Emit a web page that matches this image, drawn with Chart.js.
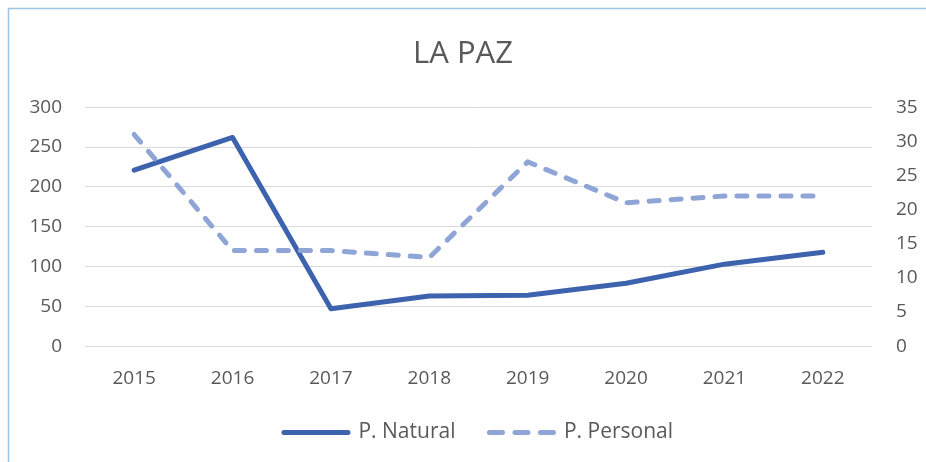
<!DOCTYPE html>
<html>
<head>
<meta charset="utf-8">
<script src="https://cdn.jsdelivr.net/npm/chart.js@4/dist/chart.umd.min.js"></script>
<style>
html,body{margin:0;padding:0;background:#fff;}
#wrap{width:926px;height:462px;position:relative;}
</style>
</head>
<body>
<div id="wrap"><canvas id="c" width="926" height="462"></canvas></div>
<script>
const titleText = "LA PAZ";
const years = ["2015","2016","2017","2018","2019","2020","2021","2022"];
const naturalValues = [221, 262, 47, 63, 64, 79, 103, 118];
const personalValues = [31, 14, 14, 13, 27, 21, 22, 22];
const leftTicks = [0, 50, 100, 150, 200, 250, 300];
const rightTicks = [0, 5, 10, 15, 20, 25, 30, 35];

const textColor = "#595959";
const fontFamily = "'Open Sans', 'Noto Sans', sans-serif";

const framePlugin = {
  id: "frame",
  beforeDraw(chart) {
    const ctx = chart.ctx;
    ctx.save();
    ctx.fillStyle = "#ffffff";
    ctx.fillRect(0, 0, chart.width, chart.height);
    ctx.strokeStyle = "#9dc3e6";
    ctx.lineWidth = 1.5;
    ctx.beginPath();
    ctx.moveTo(8.5, chart.height + 2);
    ctx.lineTo(8.5, 8.5);
    ctx.lineTo(chart.width + 2, 8.5);
    ctx.stroke();
    ctx.restore();
  }
};

// Tighten the space the legend reserves above its row and nudge it right
const LEGEND_SHRINK = 26;
const LEGEND_DRAW_UP = 23;
const LEGEND_SHIFT_X = 31;
const legendTweak = {
  id: "legendTweak",
  beforeLayout(chart) {
    const lg = chart.legend;
    if (lg && !lg._tweaked) {
      const origFit = lg.fit.bind(lg);
      lg.fit = function () { origFit(); this.height -= LEGEND_SHRINK; };
      const origDraw = lg.draw.bind(lg);
      lg.draw = function () {
        const top = this.top, left = this.left;
        this.top = top - LEGEND_DRAW_UP;
        this.left = left + LEGEND_SHIFT_X;
        origDraw();
        this.top = top;
        this.left = left;
      };
      lg._tweaked = true;
    }
  }
};

new Chart(document.getElementById("c"), {
  type: "line",
  data: {
    labels: years,
    datasets: [
      {
        label: "P. Natural",
        data: naturalValues,
        yAxisID: "yL",
        borderColor: "#3d63ae",
        backgroundColor: "#3d63ae",
        borderWidth: 5,
        borderCapStyle: "round",
        borderJoinStyle: "round",
        pointRadius: 0,
        tension: 0,
        order: 1
      },
      {
        label: "P. Personal",
        data: personalValues,
        yAxisID: "yR",
        borderColor: "#8fa5d6",
        backgroundColor: "#8fa5d6",
        borderWidth: 5,
        borderDash: [10, 12],
        borderCapStyle: "round",
        borderJoinStyle: "round",
        pointRadius: 0,
        tension: 0,
        order: 0
      }
    ]
  },
  options: {
    responsive: false,
    animation: false,
    devicePixelRatio: 1,
    layout: { padding: { top: 0, left: 0, right: 0, bottom: 12 } },
    plugins: {
      tooltip: { enabled: false },
      title: {
        display: true,
        text: titleText,
        color: textColor,
        font: { family: fontFamily, size: 31, weight: "normal" },
        padding: { top: 36, bottom: 34 }
      },
      legend: {
        display: true,
        position: "bottom",
        labels: {
          color: textColor,
          font: { family: fontFamily, size: 21 },
          usePointStyle: true,
          pointStyle: "line",
          pointStyleWidth: 64,
          boxHeight: 21,
          padding: 34,
          sort: (a, b) => a.datasetIndex - b.datasetIndex,
          generateLabels(chart) {
            const items = Chart.defaults.plugins.legend.labels.generateLabels(chart);
            items.forEach(it => {
              const ds = chart.data.datasets[it.datasetIndex];
              it.lineDash = ds.borderDash ? [13, 12.5] : [];
              it.lineCap = "round";
              it.lineWidth = 5;
              it.strokeStyle = ds.borderColor;
              it.fillStyle = ds.borderColor;
              it.pointStyle = "line";
            });
            return items;
          }
        }
      }
    },
    scales: {
      x: {
        offset: true,
        grid: { display: false, drawTicks: false },
        border: { display: false },
        ticks: {
          color: textColor,
          font: { family: fontFamily, size: 19 },
          padding: 21,
          maxRotation: 0
        }
      },
      yL: {
        position: "left",
        min: 0,
        max: 300,
        afterBuildTicks(axis) { axis.ticks = leftTicks.map(v => ({ value: v })); },
        afterFit(axis) { axis.width = 85; },
        grid: { color: "#d9d9d9", lineWidth: 1, drawTicks: false },
        border: { display: false },
        ticks: {
          color: textColor,
          font: { family: fontFamily, size: 19 },
          padding: 23
        }
      },
      yR: {
        position: "right",
        min: 0,
        max: 35,
        afterBuildTicks(axis) { axis.ticks = rightTicks.map(v => ({ value: v })); },
        afterFit(axis) { axis.width = 54; },
        grid: { display: false, drawTicks: false },
        border: { display: false },
        ticks: {
          color: textColor,
          font: { family: fontFamily, size: 19 },
          padding: 24
        }
      }
    }
  },
  plugins: [framePlugin, legendTweak]
});
</script>
</body>
</html>
